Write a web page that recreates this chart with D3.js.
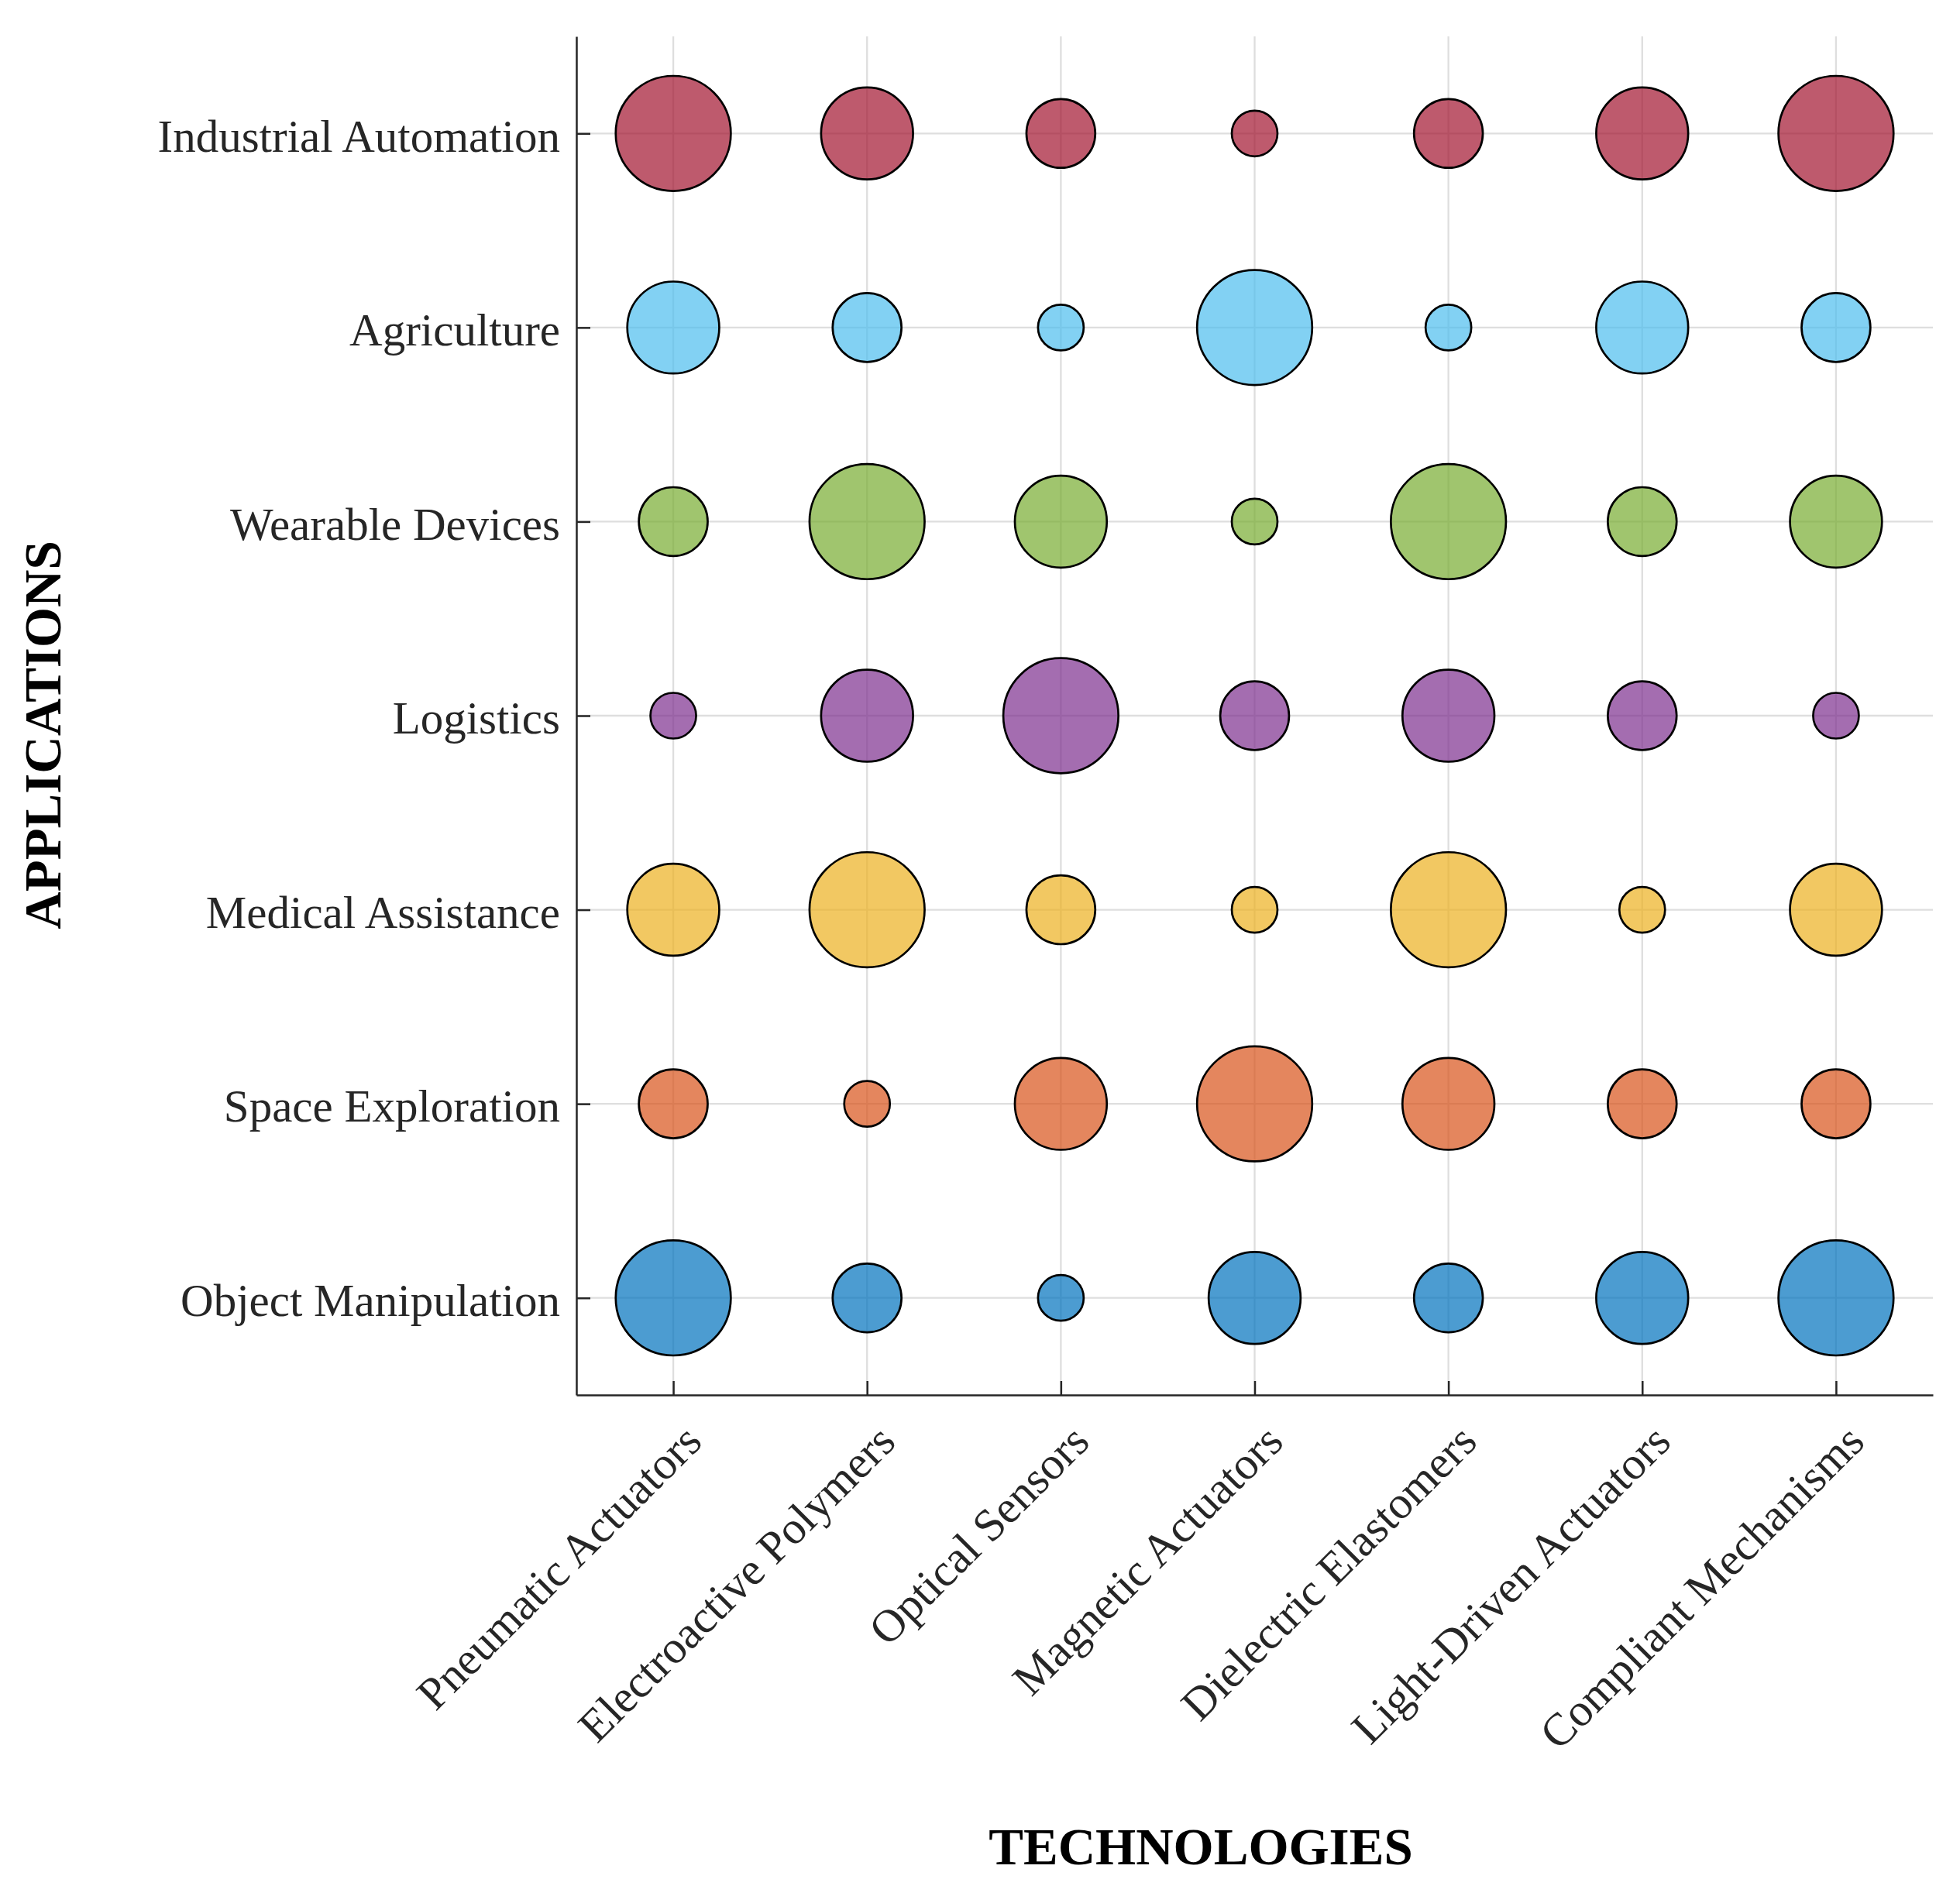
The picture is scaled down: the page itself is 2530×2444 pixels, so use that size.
<!DOCTYPE html>
<html>
<meta charset="utf-8" />
<script src="https://d3js.org/d3.v7.min.js"></script>
<style>
  body { margin: 0; background-color: #ffffff; }
  svg { display: block; }
</style>
<body>
<div id="my_dataviz"></div>
<script>
// categories
var technologies = ["Pneumatic Actuators", "Electroactive Polymers", "Optical Sensors",
  "Magnetic Actuators", "Dielectric Elastomers", "Light-Driven Actuators", "Compliant Mechanisms"];
var applications = ["Industrial Automation", "Agriculture", "Wearable Devices", "Logistics",
  "Medical Assistance", "Space Exploration", "Object Manipulation"];

// bubble level per application (rows, top to bottom), one value per technology
var industrialAutomation = [4, 3, 2, 1, 2, 3, 4];
var agriculture          = [3, 2, 1, 4, 1, 3, 2];
var wearableDevices      = [2, 4, 3, 1, 4, 2, 3];
var logistics            = [1, 3, 4, 2, 3, 2, 1];
var medicalAssistance    = [3, 4, 2, 1, 4, 1, 3];
var spaceExploration     = [2, 1, 3, 4, 3, 2, 2];
var objectManipulation   = [4, 2, 1, 3, 2, 3, 4];

var rowValues = [industrialAutomation, agriculture, wearableDevices, logistics,
  medicalAssistance, spaceExploration, objectManipulation];
var rowColors = ["#A2142F", "#4DBEEE", "#77AC30", "#7E2F8E", "#EDB120", "#D95319", "#0072BD"];

var W = 2530, H = 2444;
var plotLeft = 744, plotRight = 2495, plotTop = 47, plotBottom = 1801;
var font = "'Liberation Serif', 'Times New Roman', serif";

var svg = d3.select("#my_dataviz")
  .append("svg")
    .attr("width", W)
    .attr("height", H);

svg.append("rect").attr("width", W).attr("height", H).attr("fill", "#ffffff");

var x = d3.scalePoint().domain(technologies).range([plotLeft, plotRight]).padding(0.5);
var y = d3.scalePoint().domain(applications).range([plotTop, plotBottom]).padding(0.5);
var r = d3.scaleLinear().domain([1, 4]).range([29.5, 74.3]);

// grid
svg.append("g").selectAll("line")
  .data(technologies)
  .enter()
  .append("line")
    .attr("x1", function(d) { return x(d); })
    .attr("x2", function(d) { return x(d); })
    .attr("y1", plotTop)
    .attr("y2", plotBottom)
    .attr("stroke", "#dedede")
    .attr("stroke-width", 2.3);
svg.append("g").selectAll("line")
  .data(applications)
  .enter()
  .append("line")
    .attr("y1", function(d) { return y(d); })
    .attr("y2", function(d) { return y(d); })
    .attr("x1", plotLeft)
    .attr("x2", plotRight)
    .attr("stroke", "#dedede")
    .attr("stroke-width", 2.3);

// bubbles
var points = [];
applications.forEach(function(app, i) {
  technologies.forEach(function(tech, j) {
    points.push({ app: app, tech: tech, value: rowValues[i][j], color: rowColors[i] });
  });
});

svg.append("g").selectAll("circle")
  .data(points)
  .enter()
  .append("circle")
    .attr("cx", function(d) { return x(d.tech); })
    .attr("cy", function(d) { return y(d.app); })
    .attr("r", function(d) { return r(d.value); })
    .attr("fill", function(d) { return d.color; })
    .attr("fill-opacity", 0.7)
    .attr("stroke", "#000000")
    .attr("stroke-width", 2.7);

// axes
var yAxis = svg.append("g")
  .attr("transform", "translate(" + plotLeft + ",0)")
  .call(d3.axisLeft(y).tickSize(-18).tickSizeOuter(0).tickPadding(21));
yAxis.selectAll("text")
  .attr("dy", "0.385em")
  .style("font-family", font)
  .style("font-size", "59px")
  .attr("fill", "#262626");

var xAxis = svg.append("g")
  .attr("transform", "translate(0," + plotBottom + ")")
  .call(d3.axisBottom(x).tickSize(-18).tickSizeOuter(0));
xAxis.selectAll("text")
  .attr("x", 0)
  .attr("y", 0)
  .attr("dy", "0.89em")
  .attr("transform", "translate(2,26) rotate(-45)")
  .style("text-anchor", "end")
  .style("font-family", font)
  .style("font-size", "59px")
  .attr("fill", "#262626");

svg.selectAll(".domain, .tick line")
  .attr("stroke", "#262626")
  .attr("stroke-width", 2.5);

// axis titles
svg.append("text")
  .attr("x", 1550)
  .attr("y", 2407)
  .attr("text-anchor", "middle")
  .style("font-family", font)
  .style("font-size", "67px")
  .style("font-weight", "bold")
  .attr("fill", "#000000")
  .text("TECHNOLOGIES");

svg.append("text")
  .attr("transform", "translate(78,949) rotate(-90)")
  .attr("text-anchor", "middle")
  .style("font-family", font)
  .style("font-size", "67px")
  .style("font-weight", "bold")
  .attr("fill", "#000000")
  .text("APPLICATIONS");
</script>
</body>
</html>
